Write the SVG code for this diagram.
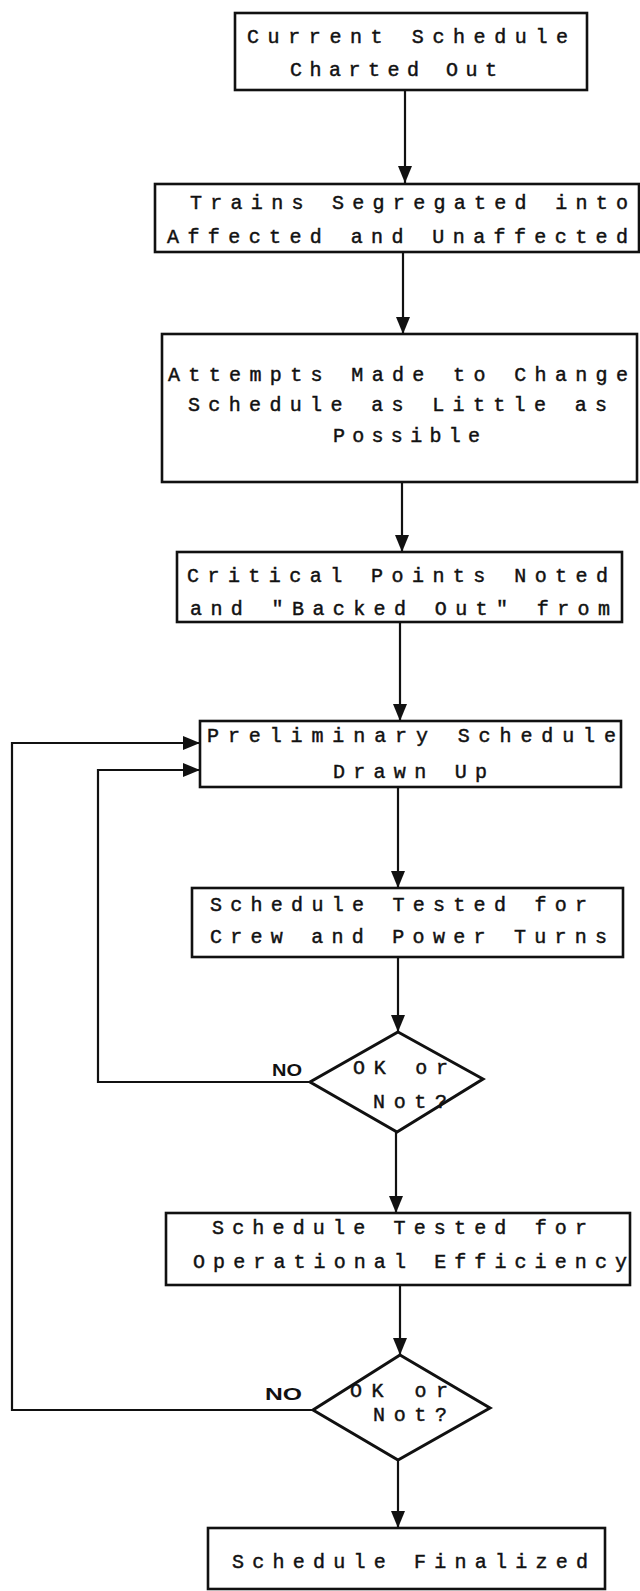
<svg xmlns="http://www.w3.org/2000/svg" width="640" height="1591" viewBox="0 0 640 1591">
<style>
.bg{fill:#ffffff}
.box{fill:none;stroke:#111;stroke-width:2.6}
.dia{fill:none;stroke:#111;stroke-width:3;stroke-linejoin:miter}
.con{fill:none;stroke:#111;stroke-width:2.2}
.t{font-family:"Liberation Mono","DejaVu Sans Mono",monospace;font-size:20px;fill:#111;stroke:#111;stroke-width:0.45}
.no{font-family:"Liberation Sans","DejaVu Sans",sans-serif;font-size:17px;font-weight:bold;fill:#111}
</style>
<defs>
<marker id="arr" markerUnits="userSpaceOnUse" markerWidth="18" markerHeight="14" refX="17" refY="7" orient="auto">
<path d="M0,0 L17,7 L0,14 z" fill="#111"/>
</marker>
</defs>
<rect class="bg" x="0" y="0" width="640" height="1591"/>
<g id="connectors">
<path class="con" d="M405,90 V183" marker-end="url(#arr)"/>
<path class="con" d="M403,252 V334" marker-end="url(#arr)"/>
<path class="con" d="M402,482 V552" marker-end="url(#arr)"/>
<path class="con" d="M400,622 V721" marker-end="url(#arr)"/>
<path class="con" d="M398,787 V888" marker-end="url(#arr)"/>
<path class="con" d="M398,957 V1032" marker-end="url(#arr)"/>
<path class="con" d="M396,1132 V1213" marker-end="url(#arr)"/>
<path class="con" d="M400,1285 V1355" marker-end="url(#arr)"/>
<path class="con" d="M398,1460 V1528" marker-end="url(#arr)"/>
<path class="con" d="M310,1082 H98 V770 H200" stroke-width="2.6" marker-end="url(#arr)"/>
<path class="con" d="M313,1410 H12 V743 H200" stroke-width="2.6" marker-end="url(#arr)"/>
</g>
<g id="n1">
<rect class="box" x="235" y="13" width="352" height="77"/>
<text class="t" x="247" y="43" textLength="321" lengthAdjust="spacing">Current Schedule</text>
<text class="t" x="290" y="76" textLength="207" lengthAdjust="spacing">Charted Out</text>
</g>
<g id="n2">
<rect class="box" x="155" y="184" width="484" height="68"/>
<text class="t" x="190" y="209" textLength="438" lengthAdjust="spacing">Trains Segregated into</text>
<text class="t" x="167" y="243" textLength="461" lengthAdjust="spacing">Affected and Unaffected</text>
</g>
<g id="n3">
<rect class="box" x="162" y="334" width="475" height="148"/>
<text class="t" x="168" y="381" textLength="460" lengthAdjust="spacing">Attempts Made to Change</text>
<text class="t" x="188" y="411" textLength="419" lengthAdjust="spacing">Schedule as Little as</text>
<text class="t" x="333" y="442" textLength="147" lengthAdjust="spacing">Possible</text>
</g>
<g id="n4">
<rect class="box" x="177" y="552" width="445" height="70"/>
<text class="t" x="187" y="582" textLength="421" lengthAdjust="spacing">Critical Points Noted</text>
<text class="t" x="190" y="615" textLength="420" lengthAdjust="spacing">and "Backed Out" from</text>
</g>
<g id="n5">
<rect class="box" x="200" y="721" width="421" height="66"/>
<text class="t" x="207" y="742" textLength="409" lengthAdjust="spacing">Preliminary Schedule</text>
<text class="t" x="333" y="778" textLength="154" lengthAdjust="spacing">Drawn Up</text>
</g>
<g id="n6">
<rect class="box" x="192" y="888" width="431" height="69"/>
<text class="t" x="210" y="911" textLength="377" lengthAdjust="spacing">Schedule Tested for</text>
<text class="t" x="210" y="943" textLength="397" lengthAdjust="spacing">Crew and Power Turns</text>
</g>
<g id="d1">
<polygon class="dia" points="398,1032 483,1079 397,1132 310,1082"/>
<text class="t" x="353" y="1074" textLength="95" lengthAdjust="spacing">OK or</text>
<text class="t" x="373" y="1108" textLength="74" lengthAdjust="spacing">Not?</text>
<text class="no" x="272" y="1076" textLength="30" lengthAdjust="spacingAndGlyphs">NO</text>
</g>
<g id="n7">
<rect class="box" x="166" y="1213" width="464" height="72"/>
<text class="t" x="212" y="1234" textLength="375" lengthAdjust="spacing">Schedule Tested for</text>
<text class="t" x="193" y="1268" textLength="434" lengthAdjust="spacing">Operational Efficiency</text>
</g>
<g id="d2">
<polygon class="dia" points="400,1355 490,1408 398,1460 313,1410"/>
<text class="t" x="350" y="1397" textLength="98" lengthAdjust="spacing">OK or</text>
<text class="t" x="373" y="1421" textLength="74" lengthAdjust="spacing">Not?</text>
<text class="no" x="265" y="1400" textLength="37" lengthAdjust="spacingAndGlyphs">NO</text>
</g>
<g id="n8">
<rect class="box" x="208" y="1528" width="397" height="61"/>
<text class="t" x="232" y="1568" textLength="356" lengthAdjust="spacing">Schedule Finalized</text>
</g>
</svg>
